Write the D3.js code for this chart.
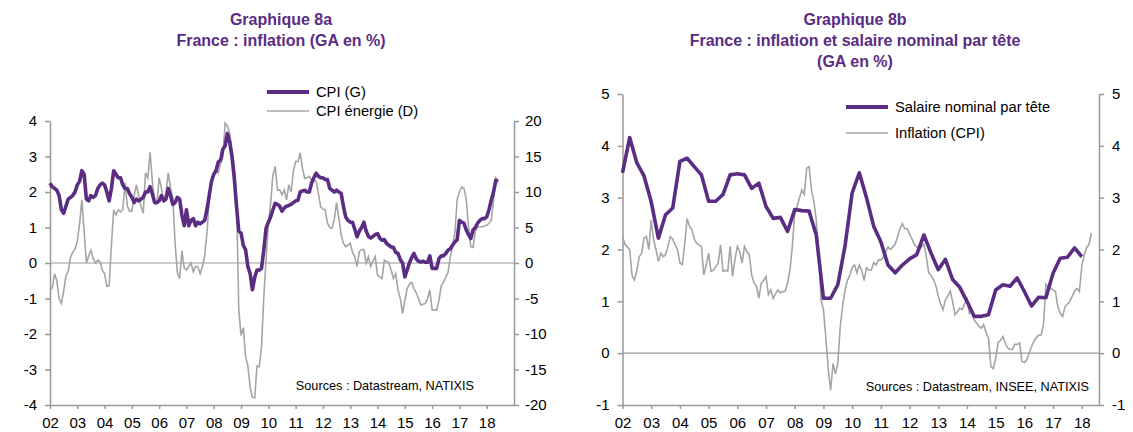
<!DOCTYPE html>
<html>
<head>
<meta charset="utf-8">
<script src="https://cdn.jsdelivr.net/npm/d3@7"></script>
<style>
  body { margin: 0; background: #fff; }
  svg text { font-family: "Liberation Sans", Arial, sans-serif; }
</style>
</head>
<body>
<svg id="charts" width="1133" height="432"></svg>
<script>
// monthly series start in Jan 2002, quarterly series in 2002 Q1
var years = d3.range(2002, 2019);
var yearLabels = ["02","03","04","05","06","07","08","09","10","11","12","13","14","15","16","17","18"];

// 8a - CPI, GA en % (monthly)
var cpi = [
  2.25, 2.15, 2.1, 2.05, 1.9, 1.5, 1.4, 1.6, 1.8, 1.85, 1.9, 2.0,
  2.2, 2.3, 2.6, 2.5, 1.8, 1.75, 1.9, 1.85, 1.9, 2.1, 2.2, 2.25,
  2.2, 2.0, 1.75, 2.1, 2.6, 2.5, 2.4, 2.4, 2.2, 2.1, 2.1, 1.95,
  1.85, 1.7, 1.8, 1.75, 1.8, 1.85, 2.0, 2.0, 2.15, 1.95, 1.7, 1.7,
  1.75, 1.9, 1.75, 1.8, 2.1, 1.9, 1.65, 1.7, 1.85, 1.8, 1.35, 1.05,
  1.5, 1.05, 1.2, 1.25, 1.05, 1.15, 1.1, 1.15, 1.2, 1.5, 1.9, 2.3,
  2.5, 2.6, 2.85, 2.9, 3.2, 3.3, 3.65, 3.4, 3.0, 2.4, 1.6, 0.9,
  0.84, 0.5, 0.37, -0.1, -0.3, -0.75, -0.4, -0.2, -0.2, -0.15, 0.37, 0.98,
  1.15, 1.3, 1.5, 1.68, 1.65, 1.6, 1.46, 1.55, 1.6, 1.62, 1.65, 1.7,
  1.75, 1.77, 2.0, 2.03, 2.05, 2.0, 2.0, 2.25, 2.4, 2.53, 2.45, 2.4,
  2.4, 2.35, 2.35, 2.1, 2.05, 2.0, 2.05, 2.0, 1.96, 1.6, 1.3, 1.2,
  1.15, 1.15, 0.95, 0.74, 0.9, 1.0, 1.15, 0.9, 0.75, 0.7, 0.75, 0.8,
  0.83, 0.7, 0.64, 0.66, 0.55, 0.5, 0.45, 0.44, 0.3, 0.27, 0.1, 0.0,
  -0.39, -0.2, 0.0, 0.15, 0.27, 0.12, 0.05, 0.03, 0.05, 0.02, 0.02, 0.2,
  -0.15, -0.15, -0.15, 0.12, 0.2, 0.2, 0.27, 0.36, 0.4, 0.5, 0.59, 0.65,
  1.2, 1.15, 1.12, 0.93, 0.8, 0.69, 0.93, 1.0, 1.12, 1.2, 1.25, 1.25,
  1.3, 1.5, 1.77, 2.0, 2.33, 2.3
];

// 8a - CPI energie, GA en % (monthly)
var cpiEnergie = [
  -3.8, -3.5, -1.5, -2.5, -5.0, -5.7, -4.0, -1.8, -1.2, 0.8, 1.5, 2.0,
  3.0, 5.5, 8.9, 4.5, 0.0, 1.0, 1.8, 0.6, 0.0, 0.4, 0.2, -1.0,
  -1.5, -3.3, -3.2, 2.5, 7.5, 6.8, 7.5, 7.2, 7.5, 11.3, 8.0, 7.3,
  7.3, 9.5, 11.0, 9.5, 8.0, 7.0, 12.7, 12.0, 15.6, 11.5, 8.5, 8.5,
  12.0, 10.5, 8.5, 10.0, 12.7, 10.5, 9.2, 2.8, -1.4, -2.2, 1.7, -0.7,
  -1.0, -0.5, 0.0, -1.2, -0.5, -0.5, -1.5, -0.5, 1.0, 4.2, 8.9, 11.0,
  12.5, 13.5, 12.7, 14.0, 15.0, 19.7, 19.3, 18.3, 16.0, 13.6, 9.3, -6.6,
  -10.2, -9.1, -13.2, -14.5, -17.5, -18.9, -19.0, -14.5, -14.6, -11.8, -4.8, 0.5,
  5.6, 8.4, 12.4, 13.6, 10.3, 10.3, 9.6, 10.3, 8.9, 11.0, 10.0, 12.9,
  14.3, 14.3, 15.5, 13.3, 11.9, 12.0, 12.2, 11.7, 11.6, 11.5, 9.8, 7.9,
  7.6, 7.5, 5.6, 5.0, 4.9, 6.1, 8.5, 6.3, 4.0, 2.8, 2.3, 2.5,
  2.8, 1.5, 0.9, -0.5, 1.6, 1.9, 1.9, 0.0, 0.9, -0.5, 0.3, 0.9,
  -1.7, -2.0, -2.2, 0.4, 0.2, 0.0, -1.0, -2.2, -1.5, -3.8, -5.0, -7.1,
  -5.3, -3.6, -3.0, -2.7, -3.6, -4.2, -5.0, -5.9, -5.8, -5.7, -5.0, -3.8,
  -6.6, -6.6, -6.6, -5.3, -3.2, -2.7, -2.0, -1.3, 0.85, 2.5, 4.2, 8.9,
  10.0, 10.7, 10.5, 9.0, 5.0, 2.3, 2.2, 4.4, 5.1, 5.1, 5.1, 5.2,
  5.3, 5.6, 6.0, 8.9, 12.0, 11.5
];

// 8b - Inflation (CPI), GA en % (monthly)
var inflation = [
  2.25, 2.1, 2.05, 2.0, 1.5, 1.41, 1.6, 1.86, 1.93, 2.22, 2.25, 2.0,
  2.57, 2.19, 2.0, 1.77, 1.93, 1.86, 1.9, 2.06, 2.25, 2.2, 2.09, 2.0,
  1.74, 1.71, 2.1, 2.6, 2.45, 2.38, 2.2, 2.12, 2.09, 2.06, 1.51, 1.7,
  1.93, 1.58, 1.6, 1.67, 1.74, 2.09, 1.58, 1.6, 1.58, 2.06, 1.48, 1.8,
  2.06, 1.96, 1.74, 2.06, 1.96, 1.9, 1.51, 1.35, 1.29, 1.06, 1.35, 1.4,
  1.48, 1.13, 1.22, 1.06, 1.15, 1.22, 1.16, 1.19, 1.19, 1.35, 1.6, 2.06,
  2.7, 2.83, 3.0, 3.15, 3.06, 3.57, 3.6, 3.15, 2.93, 2.57, 1.93, 1.03,
  0.84, 0.3, -0.3, -0.72, -0.2, -0.4, -0.2, 0.5, 0.9, 1.2, 1.4, 1.5,
  1.65, 1.7, 1.55, 1.7, 1.6, 1.4, 1.65, 1.6, 1.6, 1.75, 1.7, 1.8,
  1.8, 1.85, 1.95, 2.05, 2.0, 2.05, 2.1, 2.25, 2.4, 2.5, 2.4, 2.4,
  2.3, 2.2, 2.1, 2.05, 1.99, 2.05, 2.1, 1.87, 1.55, 1.5, 1.42, 1.3,
  1.1, 0.95, 0.84, 1.03, 1.1, 1.2, 1.0, 0.74, 0.8, 0.87, 0.84, 0.95,
  1.05, 0.77, 0.84, 0.64, 0.58, 0.52, 0.48, 0.55, 0.4, 0.29, -0.26, -0.3,
  -0.1, 0.2, 0.25, 0.32, 0.2, 0.1, 0.07, 0.07, 0.17, 0.17, 0.2, -0.16,
  -0.18, -0.13, 0.0, 0.13, 0.23, 0.3, 0.35, 0.35, 0.55, 1.33, 1.27, 1.25,
  1.22, 1.19, 0.9, 0.77, 0.71, 0.9, 0.95, 1.0, 1.1, 1.2, 1.25, 1.19,
  1.67, 1.9, 2.03, 2.1, 2.32
];

// 8b - Salaire nominal par tete, GA en % (quarterly)
var salaire = [
  3.48, 4.16, 3.67, 3.42,
  2.92, 2.22, 2.67, 2.8,
  3.7, 3.76, 3.6, 3.44,
  2.93, 2.93, 3.06, 3.44,
  3.46, 3.44, 3.18, 3.28,
  2.83, 2.6, 2.62, 2.35,
  2.77, 2.75, 2.74, 2.28,
  1.06, 1.06, 1.32, 2.06,
  3.09, 3.48, 3.0, 2.45,
  2.15, 1.7, 1.55, 1.7,
  1.82, 1.9, 2.28, 1.93,
  1.61, 1.81, 1.42, 1.27,
  1.0, 0.71, 0.71, 0.74,
  1.22, 1.32, 1.29, 1.45,
  1.19, 0.91, 1.08, 1.07,
  1.54, 1.83, 1.85, 2.03,
  1.86
];

var ticksG = [-4, -3, -2, -1, 0, 1, 2, 3, 4];
var ticksD = [-20, -15, -10, -5, 0, 5, 10, 15, 20];
var ticks8b = [-1, 0, 1, 2, 3, 4, 5];

var purple = "#5b2c83", grey = "#a5a5a5", axisGrey = "#999";

var svg = d3.select("#charts");
svg.append("rect").attr("width", 1133).attr("height", 432).attr("fill", "#fff");

function plain(d) { return String(d); }

function styleAxis(g) {
  g.attr("font-size", 15).attr("font-family", "Liberation Sans, Arial, sans-serif");
  g.select(".domain").attr("stroke", axisGrey).attr("stroke-width", 1.5);
  g.selectAll(".tick line").attr("stroke", axisGrey).attr("stroke-width", 1.5);
  g.selectAll(".tick text").attr("fill", "#000");
}

function title(lines, cx) {
  lines.forEach(function(t, i) {
    svg.append("text")
      .attr("x", cx).attr("y", 25 + i * 21)
      .attr("text-anchor", "middle")
      .attr("font-size", 16).attr("font-weight", "bold")
      .attr("fill", purple)
      .text(t);
  });
}

function legend(x, y, color, width, label) {
  svg.append("line")
    .attr("x1", x).attr("x2", x + 42).attr("y1", y).attr("y2", y)
    .attr("stroke", color).attr("stroke-width", width);
  svg.append("text")
    .attr("x", x + 49).attr("y", y + 5)
    .attr("font-size", 14.7).attr("fill", "#000")
    .text(label);
}

// ---------- Graphique 8a ----------
var xA = d3.scaleLinear().domain([2002, 2019]).range([50, 514]);
var yG = d3.scaleLinear().domain([-4, 4]).range([405, 121]);
var yD = d3.scaleLinear().domain([-20, 20]).range([405, 121]);

title(["Graphique 8a", "France : inflation (GA en %)"], 281);

svg.append("line")
  .attr("x1", xA.range()[0]).attr("x2", xA.range()[1])
  .attr("y1", yG(0)).attr("y2", yG(0))
  .attr("stroke", axisGrey).attr("stroke-width", 1.2);

svg.append("g")
  .attr("transform", "translate(0," + yG(-4) + ")")
  .call(d3.axisBottom(xA).tickValues(years).tickFormat(function(d, i) { return yearLabels[i]; })
    .tickSize(4).tickSizeOuter(0).tickPadding(8))
  .call(styleAxis);

svg.append("g")
  .attr("transform", "translate(" + xA.range()[0] + ",0)")
  .call(d3.axisLeft(yG).tickValues(ticksG).tickFormat(plain).tickSize(5).tickSizeOuter(0).tickPadding(8))
  .call(styleAxis);

svg.append("g")
  .attr("transform", "translate(" + xA.range()[1] + ",0)")
  .call(d3.axisRight(yD).tickValues(ticksD).tickFormat(plain).tickSize(5).tickSizeOuter(0).tickPadding(6))
  .call(styleAxis);

svg.append("path")
  .datum(cpiEnergie)
  .attr("fill", "none").attr("stroke", grey).attr("stroke-width", 1.6)
  .attr("d", d3.line().x(function(d, i) { return xA(2002 + i / 12); }).y(function(d) { return yD(d); }));

svg.append("path")
  .datum(cpi)
  .attr("fill", "none").attr("stroke", purple).attr("stroke-width", 3.6)
  .attr("stroke-linejoin", "round")
  .attr("d", d3.line().x(function(d, i) { return xA(2002 + i / 12); }).y(function(d) { return yG(d); }));

legend(267, 92, purple, 4, "CPI (G)");
legend(267, 111, grey, 1.6, "CPI énergie (D)");

svg.append("text")
  .attr("x", 474).attr("y", 390)
  .attr("text-anchor", "end").attr("font-size", 12.7).attr("fill", "#000")
  .text("Sources : Datastream, NATIXIS");

// ---------- Graphique 8b ----------
var xB = d3.scaleLinear().domain([2002, 2018.6]).range([622.5, 1099]);
var yB = d3.scaleLinear().domain([-1, 5]).range([405, 94]);

title(["Graphique 8b", "France : inflation et salaire nominal par tête", "(GA en %)"], 855);

svg.append("line")
  .attr("x1", xB.range()[0]).attr("x2", xB.range()[1])
  .attr("y1", yB(0)).attr("y2", yB(0))
  .attr("stroke", axisGrey).attr("stroke-width", 1.2);

svg.append("g")
  .attr("transform", "translate(0," + yB(-1) + ")")
  .call(d3.axisBottom(xB).tickValues(years).tickFormat(function(d, i) { return yearLabels[i]; })
    .tickSize(4).tickSizeOuter(0).tickPadding(8))
  .call(styleAxis);

svg.append("g")
  .attr("transform", "translate(" + xB.range()[0] + ",0)")
  .call(d3.axisLeft(yB).tickValues(ticks8b).tickFormat(plain).tickSize(5).tickSizeOuter(0).tickPadding(8))
  .call(styleAxis);

svg.append("g")
  .attr("transform", "translate(" + xB.range()[1] + ",0)")
  .call(d3.axisRight(yB).tickValues(ticks8b).tickFormat(plain).tickSize(5).tickSizeOuter(0).tickPadding(8))
  .call(styleAxis);

svg.append("path")
  .datum(inflation)
  .attr("fill", "none").attr("stroke", grey).attr("stroke-width", 1.6)
  .attr("d", d3.line().x(function(d, i) { return xB(2002 + i / 12); }).y(function(d) { return yB(d); }));

svg.append("path")
  .datum(salaire)
  .attr("fill", "none").attr("stroke", purple).attr("stroke-width", 3.6)
  .attr("stroke-linejoin", "round")
  .attr("d", d3.line().x(function(d, i) { return xB(2002 + i / 4); }).y(function(d) { return yB(d); }));

legend(846, 107, purple, 4, "Salaire nominal par tête");
legend(846, 133, grey, 1.6, "Inflation (CPI)");

svg.append("text")
  .attr("x", 1089).attr("y", 391)
  .attr("text-anchor", "end").attr("font-size", 12.7).attr("fill", "#000")
  .text("Sources : Datastream, INSEE, NATIXIS");
</script>
</body>
</html>
